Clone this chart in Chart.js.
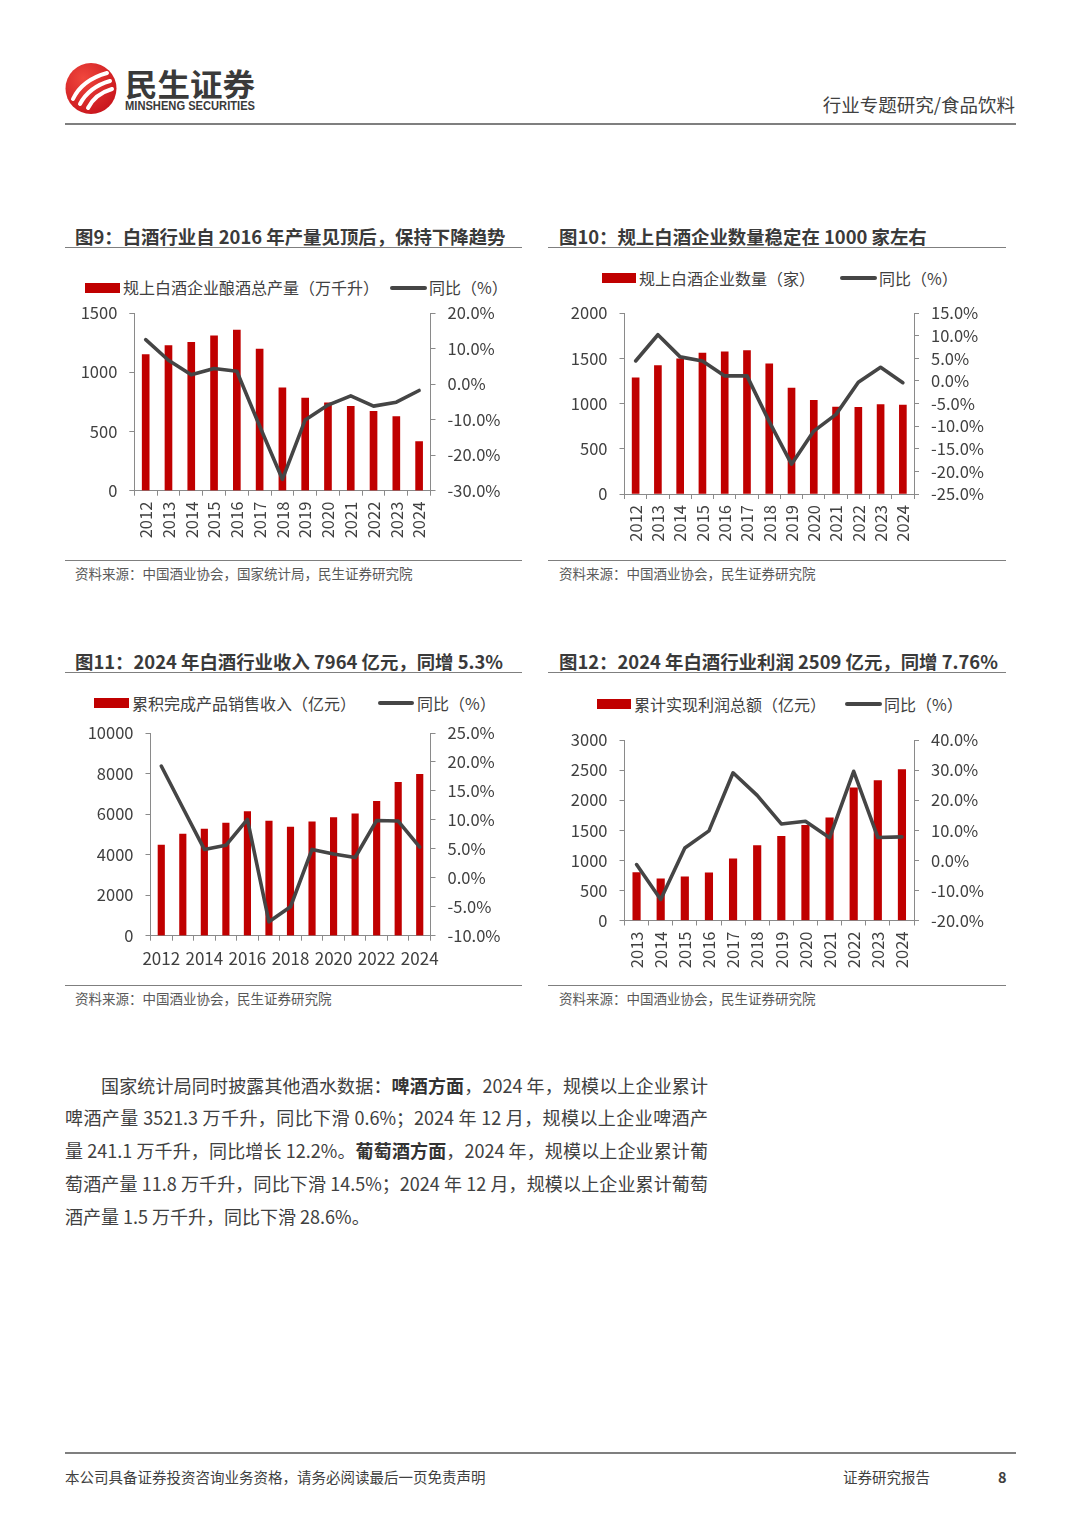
<!DOCTYPE html>
<html lang="zh-CN">
<head>
<meta charset="utf-8">
<title>白酒行业数据</title>
<script src="https://cdn.jsdelivr.net/npm/chart.js@4.4.1/dist/chart.umd.min.js"></script>
<style>
  html, body { margin: 0; padding: 0; background: #fff; }
  body { position: relative; width: 1080px; height: 1528px; overflow: hidden;
         font-family: "Noto Sans CJK SC", "Noto Sans", sans-serif; color: #404040; }
  .abs { position: absolute; white-space: nowrap; line-height: 1; }
  .rule { position: absolute; height: 0; border-top: 1.5px solid #7f7f7f; }
  .title { font-size: 18.4px; font-weight: bold; color: #3a3a3a; }
  .src { font-size: 13.5px; color: #595959; }
  .lg { font-size: 16px; color: #404040; }
  .sw-bar { position: absolute; height: 10px; background: #C00000; }
  .sw-line { position: absolute; height: 4px; background: #454545; border-radius: 2px; }
  .para { position: absolute; font-size: 18px; line-height: 1; white-space: nowrap; color: #404040; }
  .just { text-align: justify; text-align-last: justify; }
  .para b { color: #333; }
  canvas { position: absolute; }
</style>
</head>
<body>

<!-- header -->
<svg class="abs" style="left:62px;top:58px" width="210" height="60" viewBox="0 0 210 60">
  <defs>
    <radialGradient id="logoRed" cx="35%" cy="30%" r="75%">
      <stop offset="0" stop-color="#f0473d"/>
      <stop offset="1" stop-color="#c9161d"/>
    </radialGradient>
  </defs>
  <circle cx="29" cy="30.5" r="25.5" fill="url(#logoRed)"/>
  <g fill="none" stroke="#fff" stroke-width="4" stroke-linecap="round">
    <path d="M 11 41 Q 20 22 45 15"/>
    <path d="M 18 46 Q 27 29 48 23"/>
    <path d="M 26 50 Q 33 36 50 31"/>
  </g>
  <text x="63" y="38" font-size="31" font-weight="bold" fill="#3a3a3a" textLength="130"
        lengthAdjust="spacingAndGlyphs" font-family="Noto Sans CJK SC">民生证券</text>
  <text x="63" y="52" font-size="13" font-weight="bold" fill="#3a3a3a" textLength="130"
        lengthAdjust="spacingAndGlyphs" font-family="Liberation Sans Narrow, Liberation Sans">MINSHENG SECURITIES</text>
</svg>
<div class="abs" style="right:65px;top:95px;font-size:18.5px;color:#404040">行业专题研究/食品饮料</div>
<div class="rule" style="left:65px;top:123px;width:951px;border-top-width:2px"></div>

<!-- fig 9 -->
<div class="abs title" style="left:75px;top:226.8px">图9：白酒行业自 2016 年产量见顶后，保持下降趋势</div>
<div class="rule" style="left:65px;top:246.5px;width:457px"></div>
<div class="sw-bar" style="left:85px;top:282.7px;width:35px"></div>
<div class="abs lg" style="left:123px;top:279.2px">规上白酒企业酿酒总产量（万千升）</div>
<div class="sw-line" style="left:390px;top:285.7px;width:37px"></div>
<div class="abs lg" style="left:429px;top:279.2px">同比（%）</div>
<canvas id="c9"></canvas>
<div class="rule" style="left:65px;top:560px;width:457px"></div>
<div class="abs src" style="left:75px;top:566.5px">资料来源：中国酒业协会，国家统计局，民生证券研究院</div>

<!-- fig 10 -->
<div class="abs title" style="left:559px;top:226.8px">图10：规上白酒企业数量稳定在 1000 家左右</div>
<div class="rule" style="left:548px;top:246.5px;width:458px"></div>
<div class="sw-bar" style="left:601.7px;top:273.3px;width:34px"></div>
<div class="abs lg" style="left:639px;top:269.8px">规上白酒企业数量（家）</div>
<div class="sw-line" style="left:840px;top:276.3px;width:37px"></div>
<div class="abs lg" style="left:879px;top:269.8px">同比（%）</div>
<canvas id="c10"></canvas>
<div class="rule" style="left:548px;top:560px;width:458px"></div>
<div class="abs src" style="left:559px;top:566.5px">资料来源：中国酒业协会，民生证券研究院</div>

<!-- fig 11 -->
<div class="abs title" style="left:75px;top:651.8px">图11：2024 年白酒行业收入 7964 亿元，同增 5.3%</div>
<div class="rule" style="left:65px;top:671.5px;width:457px"></div>
<div class="sw-bar" style="left:94.3px;top:698.3px;width:35px"></div>
<div class="abs lg" style="left:132px;top:694.8px">累积完成产品销售收入（亿元）</div>
<div class="sw-line" style="left:378.3px;top:701.3px;width:36px"></div>
<div class="abs lg" style="left:417px;top:694.8px">同比（%）</div>
<canvas id="c11"></canvas>
<div class="rule" style="left:65px;top:985px;width:457px"></div>
<div class="abs src" style="left:75px;top:992px">资料来源：中国酒业协会，民生证券研究院</div>

<!-- fig 12 -->
<div class="abs title" style="left:559px;top:651.8px">图12：2024 年白酒行业利润 2509 亿元，同增 7.76%</div>
<div class="rule" style="left:548px;top:671.5px;width:458px"></div>
<div class="sw-bar" style="left:596.7px;top:699.3px;width:34px"></div>
<div class="abs lg" style="left:634px;top:695.8px">累计实现利润总额（亿元）</div>
<div class="sw-line" style="left:845px;top:702.3px;width:37px"></div>
<div class="abs lg" style="left:884px;top:695.8px">同比（%）</div>
<canvas id="c12"></canvas>
<div class="rule" style="left:548px;top:985px;width:458px"></div>
<div class="abs src" style="left:559px;top:992px">资料来源：中国酒业协会，民生证券研究院</div>

<!-- body text -->
<div class="para just" style="left:101px;top:1076px;width:607px">国家统计局同时披露其他酒水数据：<b>啤酒方面</b>，2024 年，规模以上企业累计</div>
<div class="para just" style="left:65px;top:1108px;width:643px">啤酒产量 3521.3 万千升，同比下滑 0.6%；2024 年 12 月，规模以上企业啤酒产</div>
<div class="para just" style="left:65px;top:1141px;width:643px">量 241.1 万千升，同比增长 12.2%。<b>葡萄酒方面</b>，2024 年，规模以上企业累计葡</div>
<div class="para just" style="left:65px;top:1174px;width:643px">萄酒产量 11.8 万千升，同比下滑 14.5%；2024 年 12 月，规模以上企业累计葡萄</div>
<div class="para" style="left:65px;top:1207px">酒产量 1.5 万千升，同比下滑 28.6%。</div>

<!-- footer -->
<div class="rule" style="left:65px;top:1452px;width:951px;border-top-width:2px"></div>
<div class="abs" style="left:65px;top:1470px;font-size:14.5px;color:#404040">本公司具备证券投资咨询业务资格，请务必阅读最后一页免责声明</div>
<div class="abs" style="left:843px;top:1470px;font-size:14.5px;color:#404040">证券研究报告</div>
<div class="abs" style="left:998px;top:1470px;font-size:14.5px;font-weight:bold;color:#404040">8</div>

<script>
// 图9 规上白酒企业酿酒总产量（万千升）及同比
const years9 = ['2012', '2013', '2014', '2015', '2016', '2017', '2018', '2019', '2020', '2021', '2022', '2023', '2024'];
const output9 = [1150, 1224, 1252, 1308, 1356, 1195, 868, 781, 741, 713, 671, 626, 414];
const yoy9 = [12.5, 6.7, 2.6, 4.4, 3.6, -11.8, -26.8, -10.1, -5.9, -3.3, -6.2, -5.1, -1.8];

// 图10 规上白酒企业数量（家）及同比
const years10 = ['2012', '2013', '2014', '2015', '2016', '2017', '2018', '2019', '2020', '2021', '2022', '2023', '2024'];
const count10 = [1284, 1420, 1494, 1556, 1571, 1585, 1439, 1171, 1035, 961, 958, 987, 983];
const yoy10 = [4.4, 10.2, 5.3, 4.4, 1.1, 1.1, -9.0, -18.4, -11.1, -7.4, -0.3, 3.0, -0.4];

// 图11 累积完成产品销售收入（亿元）及同比
const years11 = ['2012', '2013', '2014', '2015', '2016', '2017', '2018', '2019', '2020', '2021', '2022', '2023', '2024'];
const revenue11 = [4466, 5008, 5255, 5550, 6125, 5649, 5353, 5616, 5829, 6010, 6634, 7570, 7964];
const yoy11 = [19.3, 12.1, 4.9, 5.6, 10.1, -7.6, -5.0, 4.9, 4.1, 3.5, 9.9, 9.8, 5.3];

// 图12 累计实现利润总额（亿元）及同比
const years12 = ['2013', '2014', '2015', '2016', '2017', '2018', '2019', '2020', '2021', '2022', '2023', '2024'];
const profit12 = [797, 692, 725, 792, 1024, 1245, 1400, 1583, 1705, 2203, 2325, 2509];
const yoy12 = [-1.4, -13.0, 4.1, 9.8, 29.1, 21.6, 12.1, 13.0, 7.5, 29.6, 7.6, 7.8];

// axis ranges [min, max, step]
const left9 = [0, 1500, 500],   right9 = [-30, 20, 10];
const left10 = [0, 2000, 500],  right10 = [-25, 15, 5];
const left11 = [0, 10000, 2000], right11 = [-10, 25, 5];
const left12 = [0, 3000, 500],  right12 = [-20, 40, 10];

const AXIS = '#8a8a8a';
const TICK = '#404040';
const TICK_SIZE = 16.5;
const PAD_TOP = 30; // larger than the axes' own label padding, so it decides the plot top
Chart.defaults.font.family = '"Noto Sans CJK SC", "Noto Sans", sans-serif';
Chart.defaults.color = TICK;

function makeChart(id, spec) {
  const cv = document.getElementById(id);
  const g = spec.geom;
  const top = g.T - PAD_TOP;
  cv.style.left = g.left + 'px';
  cv.style.top = top + 'px';
  cv.width = g.width;
  cv.height = g.bottom - top;

  // fix the plot area so it lines up with the page
  const leftW = g.L - g.left;
  const rightW = g.left + g.width - g.R;
  const xH = g.bottom - g.B;

  const grid = { drawOnChartArea: false, drawTicks: true, tickLength: 5, color: AXIS, lineWidth: 1 };
  const border = { display: true, color: AXIS, width: 1 };

  return new Chart(cv, {
    type: 'bar',
    data: {
      labels: spec.labels,
      datasets: [
        {
          type: 'bar',
          label: spec.barLabel,
          data: spec.bars,
          backgroundColor: '#C00000',
          borderWidth: 0,
          barThickness: spec.barW,
          yAxisID: 'y',
          order: 1,
        },
        {
          type: 'line',
          label: spec.lineLabel,
          data: spec.line,
          borderColor: '#454545',
          borderWidth: 3.6,
          pointRadius: 0,
          tension: 0,
          fill: false,
          borderJoinStyle: 'round',
          borderCapStyle: 'round',
          yAxisID: 'y1',
          order: 0,
        },
      ],
    },
    options: {
      responsive: false,
      animation: false,
      layout: { padding: { top: PAD_TOP, left: 0, right: 0, bottom: 0 } },
      plugins: {
        legend: { display: false },
        tooltip: { enabled: false },
      },
      scales: {
        x: {
          type: 'category',
          offset: true,
          grid: { ...grid, offset: true },
          border: border,
          ticks: {
            autoSkip: false,
            minRotation: spec.rot,
            maxRotation: spec.rot,
            padding: spec.xPad,
            color: TICK,
            font: { size: spec.xFont },
            callback: function (value, index) {
              return index % spec.every === 0 ? this.getLabelForValue(value) : '';
            },
          },
          afterFit: (s) => { s.height = xH; },
        },
        y: {
          position: 'left',
          min: spec.left[0],
          max: spec.left[1],
          grid: grid,
          border: border,
          ticks: {
            stepSize: spec.left[2],
            autoSkip: false,
            padding: 12,
            color: TICK,
            font: { size: TICK_SIZE },
            callback: (v) => String(v),
          },
          afterFit: (s) => { s.width = leftW; },
        },
        y1: {
          position: 'right',
          min: spec.right[0],
          max: spec.right[1],
          grid: grid,
          border: border,
          ticks: {
            stepSize: spec.right[2],
            autoSkip: false,
            padding: 12,
            color: TICK,
            font: { size: TICK_SIZE },
            callback: (v) => v.toFixed(1) + '%',
          },
          afterFit: (s) => { s.width = rightW; },
        },
      },
    },
  });
}

makeChart('c9', {
  labels: years9, bars: output9, line: yoy9,
  barLabel: '规上白酒企业酿酒总产量（万千升）', lineLabel: '同比（%）',
  left: left9, right: right9,
  rot: 90, every: 1, xPad: 6, xFont: 16.5, barW: 7,
  geom: { left: 65, width: 457, bottom: 550, L: 134.3, R: 430.5, T: 312.7, B: 490.7 },
});

makeChart('c10', {
  labels: years10, bars: count10, line: yoy10,
  barLabel: '规上白酒企业数量（家）', lineLabel: '同比（%）',
  left: left10, right: right10,
  rot: 90, every: 1, xPad: 6, xFont: 16.5, barW: 7,
  geom: { left: 548, width: 458, bottom: 554, L: 624.5, R: 914, T: 313.3, B: 495 },
});

makeChart('c11', {
  labels: years11, bars: revenue11, line: yoy11,
  barLabel: '累积完成产品销售收入（亿元）', lineLabel: '同比（%）',
  left: left11, right: right11,
  rot: 0, every: 2, xPad: 8, xFont: 17, barW: 6.5,
  geom: { left: 65, width: 457, bottom: 976, L: 150.5, R: 430.5, T: 732.7, B: 935.7 },
});

makeChart('c12', {
  labels: years12, bars: profit12, line: yoy12,
  barLabel: '累计实现利润总额（亿元）', lineLabel: '同比（%）',
  left: left12, right: right12,
  rot: 90, every: 1, xPad: 6, xFont: 16.5, barW: 7.5,
  geom: { left: 548, width: 458, bottom: 980, L: 624.5, R: 914, T: 739.7, B: 920.5 },
});
</script>
</body>
</html>
